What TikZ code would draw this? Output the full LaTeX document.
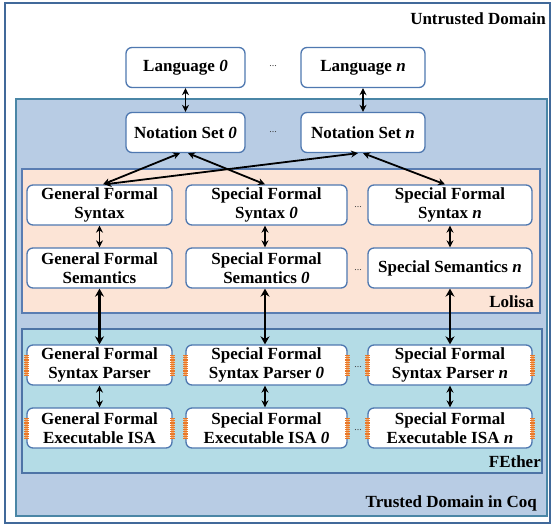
\documentclass[tikz,border=0pt]{standalone}
\usepackage{fontspec}
\setmainfont{Liberation Serif}
\usetikzlibrary{arrows.meta}

\definecolor{outerline}{HTML}{41699A}
\definecolor{trustfill}{HTML}{B8CCE4}
\definecolor{trustline}{HTML}{4A86A6}
\definecolor{lolisafill}{HTML}{FCE4D6}
\definecolor{lolisaline}{HTML}{5A7DB2}
\definecolor{fetherfill}{HTML}{B4DCE6}
\definecolor{fetherline}{HTML}{4E74A6}
\definecolor{boxline}{HTML}{4F78B0}
\definecolor{springorange}{HTML}{E8782A}
\definecolor{springlight}{HTML}{F6A868}

\newcommand{\boxfont}{\fontsize{17}{19}\selectfont\bfseries}

\tikzset{
  stepbox/.style={draw=boxline, line width=1.3pt, fill=white, rounded corners=6pt,
    minimum height=40pt, inner sep=0pt, align=center, font=\boxfont},
  regionlabel/.style={anchor=east, inner sep=0pt, font=\boxfont},
  dotsep/.style={anchor=base, inner sep=0pt, text=black!75, font=\fontsize{10}{10}\selectfont},
  link/.style={black, line width=1.8pt, {Stealth[length=7pt,width=7pt]}-{Stealth[length=7pt,width=7pt]}},
  biglink/.style={black, line width=2.6pt, {Stealth[length=8pt,width=9pt]}-{Stealth[length=8pt,width=9pt]}},
  spring/.pic={
    \draw[springlight, line width=3pt] (0,-10) -- (0,10);
    \draw[springorange, line width=4.5pt, dash pattern=on 1.2pt off 1pt] (0,-10) -- (0,10);
  }
}

\begin{document}
\begin{tikzpicture}[x=1pt, y=-1pt]
\useasboundingbox (0,0) rectangle (554,525);

% domains and layers
\draw[outerline, line width=2pt, fill=white] (5,3) rectangle (550,523);
\draw[trustline, line width=1.5pt, fill=trustfill] (16,99) rectangle (547,516);
\draw[lolisaline, line width=1.5pt, fill=lolisafill] (22,169) rectangle (540,313);
\draw[fetherline, line width=1.5pt, fill=fetherfill] (22,329) rectangle (542,473);

\node[regionlabel] (untrusted) at (546,19) {Untrusted Domain};
\node[regionlabel] (lolisa) at (534,302) {Lolisa};
\node[regionlabel] (fether) at (541,462) {FEther};
\node[regionlabel] (trusted) at (537,503) {Trusted Domain in Coq};

% languages and notation sets
\node[stepbox, minimum width=119pt] (l0) at (185.5,67.5) {Language \textit{0}};
\node[stepbox, minimum width=124pt] (ln) at (363,67.5) {Language \textit{n}};
\node[stepbox, minimum width=119pt] (ns0) at (185.5,132.5) {Notation Set \textit{0}};
\node[stepbox, minimum width=124pt] (nsn) at (363,132.5) {Notation Set \textit{n}};
\node[dotsep] (d1) at (273,66) {...};
\node[dotsep] (d2) at (273,132) {...};

% Lolisa
\node[stepbox, minimum width=145pt] (gfs) at (99.5,205) {General Formal\\Syntax};
\node[stepbox, minimum width=161pt] (sfs0) at (266.5,205) {Special Formal\\Syntax \textit{0}};
\node[stepbox, minimum width=164pt] (sfsn) at (450,205) {Special Formal\\Syntax \textit{n}};
\node[stepbox, minimum width=145pt] (gsem) at (99.5,268) {General Formal\\Semantics};
\node[stepbox, minimum width=161pt] (ssem0) at (266.5,268) {Special Formal\\Semantics \textit{0}};
\node[stepbox, minimum width=164pt] (ssemn) at (450,268) {Special Semantics \textit{n}};
\node[dotsep] (d3) at (358,207) {...};
\node[dotsep] (d4) at (358,270) {...};

% FEther
\node[stepbox, minimum width=145pt] (gpar) at (99.5,365) {General Formal\\Syntax Parser};
\node[stepbox, minimum width=161pt] (spar0) at (266.5,365) {Special Formal\\Syntax Parser \textit{0}};
\node[stepbox, minimum width=164pt] (sparn) at (450,365) {Special Formal\\Syntax Parser \textit{n}};
\node[stepbox, minimum width=145pt] (gisa) at (99.5,428) {General Formal\\Executable ISA};
\node[stepbox, minimum width=161pt] (sisa0) at (266.5,428) {Special Formal\\Executable ISA \textit{0}};
\node[stepbox, minimum width=164pt] (sisan) at (450,428) {Special Formal\\Executable ISA \textit{n}};
\node[dotsep] (d5) at (358,367) {...};
\node[dotsep] (d6) at (358,430) {...};

% couplers on the FEther components
\foreach \n in {gpar,spar0,sparn,gisa,sisa0,sisan}{
  \pic at (\n.west) {spring};
  \pic at (\n.east) {spring};
}

% connectors
\draw[link] (l0) -- (ns0);
\draw[link] (ln) -- (nsn);
\draw[link] ([xshift=3.5pt]gfs.north) -- ([xshift=-5.5pt]ns0.south);
\draw[link] ([xshift=5pt]gfs.north) -- ([xshift=-5pt]nsn.south);
\draw[link] ([xshift=-1.5pt]sfs0.north) -- ([xshift=2.5pt]ns0.south);
\draw[link] ([xshift=-5pt]sfsn.north) -- (nsn.south);

\draw[link] (gfs) -- (gsem);
\draw[link] ([xshift=-1.5pt]sfs0.south) -- ([xshift=-1.5pt]ssem0.north);
\draw[link] (sfsn) -- (ssemn);

\draw[biglink] (gsem) -- (gpar);
\draw[biglink] ([xshift=-1.5pt]ssem0.south) -- ([xshift=-1.5pt]spar0.north);
\draw[biglink] (ssemn) -- (sparn);

\draw[link] (gpar) -- (gisa);
\draw[link] ([xshift=-1.5pt]spar0.south) -- ([xshift=-1.5pt]sisa0.north);
\draw[link] (sparn) -- (sisan);
\end{tikzpicture}
\end{document}
